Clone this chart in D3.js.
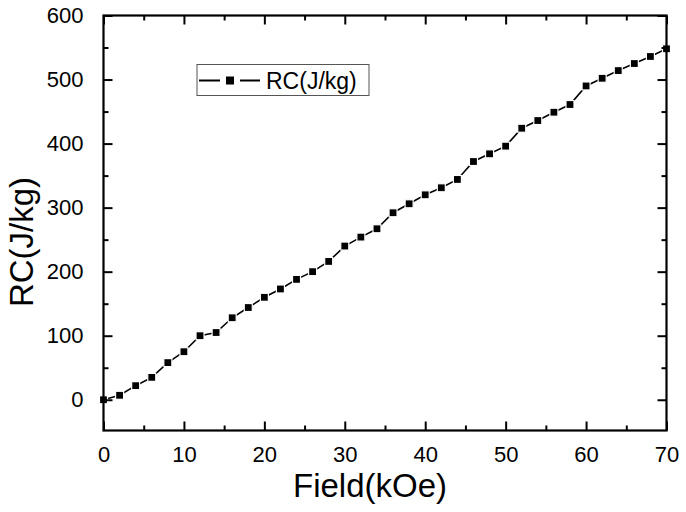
<!DOCTYPE html>
<html>
<head>
<meta charset="utf-8">
<script src="https://cdn.jsdelivr.net/npm/d3@7"></script>
<style>
  body { margin: 0; background: #fff; }
  svg { font-family: "Liberation Sans", Arial, sans-serif; }
</style>
</head>
<body>
<svg id="chart" width="686" height="512"></svg>
<script>
// field values (kOe)
const fields = [0, 2, 4, 6, 8, 10, 12, 14, 16, 18, 20, 22, 24, 26, 28, 30, 32, 34,
  36, 38, 40, 42, 44, 46, 48, 50, 52, 54, 56, 58, 60, 62, 64, 66, 68, 70];
// RC (J/kg)
const rcValues = [0, 7, 22, 35, 58, 75, 100, 105, 128, 144, 160, 173, 188, 200, 216, 240, 254, 267,
  292, 306, 320, 331, 344, 372, 384, 396, 424, 436, 449, 461, 490, 502, 514, 525, 536, 548];
const xTicks = [0, 10, 20, 30, 40, 50, 60, 70];
const yTicks = [0, 100, 200, 300, 400, 500, 600];
const seriesName = "RC(J/kg)";

const data = fields.map((f, i) => ({ x: f, y: rcValues[i] }));

const plotLeft = 103.5, plotRight = 666.5, plotTop = 15.5, plotBottom = 430.5;

const svg = d3.select("#chart");

const x = d3.scaleLinear().domain([0, 70]).range([plotLeft, plotRight]);
const y = d3.scaleLinear().domain([-48, 600]).range([plotBottom, plotTop]);

const plot = svg.append("g");

// data line
const line = d3.line().x(d => x(d.x)).y(d => y(d.y));
plot.append("path")
  .datum(data)
  .attr("fill", "none")
  .attr("stroke", "#000")
  .attr("stroke-width", 1.6)
  .attr("d", line);

// square markers with a white rim (gap look)
plot.selectAll(".pt")
  .data(data)
  .enter().append("rect")
  .attr("class", "pt")
  .attr("x", d => x(d.x) - 4)
  .attr("y", d => y(d.y) - 4)
  .attr("width", 8)
  .attr("height", 8)
  .attr("fill", "#000")
  .attr("stroke", "#fff")
  .attr("stroke-width", 1.2);

// axes
const minorX = d3.range(5, 70, 10);
const minorY = d3.range(50, 600, 100);

function styleAxis(g) {
  g.select(".domain").remove();
  g.selectAll(".tick line").attr("stroke", "#000").attr("stroke-width", 2);
  g.selectAll(".tick text").attr("fill", "#000").style("font-size", "22px");
}

// bottom
svg.append("g").attr("transform", `translate(0,${plotBottom})`)
  .call(d3.axisBottom(x).tickValues(xTicks).tickFormat(d3.format("d")).tickSizeInner(-9).tickSizeOuter(0).tickPadding(16))
  .call(styleAxis);
svg.append("g").attr("transform", `translate(0,${plotBottom})`)
  .call(d3.axisBottom(x).tickValues(minorX).tickFormat("").tickSizeInner(-5).tickSizeOuter(0))
  .call(styleAxis);

// top
svg.append("g").attr("transform", `translate(0,${plotTop})`)
  .call(d3.axisTop(x).tickValues(xTicks).tickFormat("").tickSizeInner(-9).tickSizeOuter(0))
  .call(styleAxis);
svg.append("g").attr("transform", `translate(0,${plotTop})`)
  .call(d3.axisTop(x).tickValues(minorX).tickFormat("").tickSizeInner(-5).tickSizeOuter(0))
  .call(styleAxis);

// left
svg.append("g").attr("transform", `translate(${plotLeft},0)`)
  .call(d3.axisLeft(y).tickValues(yTicks).tickFormat(d3.format("d")).tickSizeInner(-9).tickSizeOuter(0).tickPadding(20))
  .call(styleAxis);
svg.append("g").attr("transform", `translate(${plotLeft},0)`)
  .call(d3.axisLeft(y).tickValues(minorY).tickFormat("").tickSizeInner(-5).tickSizeOuter(0))
  .call(styleAxis);

// right
svg.append("g").attr("transform", `translate(${plotRight},0)`)
  .call(d3.axisRight(y).tickValues(yTicks).tickFormat("").tickSizeInner(-9).tickSizeOuter(0))
  .call(styleAxis);
svg.append("g").attr("transform", `translate(${plotRight},0)`)
  .call(d3.axisRight(y).tickValues(minorY).tickFormat("").tickSizeInner(-5).tickSizeOuter(0))
  .call(styleAxis);

// frame
svg.append("rect")
  .attr("x", plotLeft).attr("y", plotTop)
  .attr("width", plotRight - plotLeft).attr("height", plotBottom - plotTop)
  .attr("fill", "none").attr("stroke", "#000").attr("stroke-width", 2.2);

// axis titles
svg.append("text")
  .attr("x", 370).attr("y", 497)
  .attr("text-anchor", "middle")
  .style("font-size", "33px")
  .text("Field(kOe)");

svg.append("text")
  .attr("transform", "translate(33,242) rotate(-90)")
  .attr("text-anchor", "middle")
  .style("font-size", "33px")
  .text("RC(J/kg)");

// legend
const lg = svg.append("g");
lg.append("rect")
  .attr("x", 197).attr("y", 64.5).attr("width", 172).attr("height", 31)
  .attr("fill", "#fff").attr("stroke", "#555").attr("stroke-width", 1);
lg.append("line").attr("x1", 199).attr("x2", 220).attr("y1", 80.5).attr("y2", 80.5)
  .attr("stroke", "#000").attr("stroke-width", 2);
lg.append("line").attr("x1", 240).attr("x2", 260).attr("y1", 80.5).attr("y2", 80.5)
  .attr("stroke", "#000").attr("stroke-width", 2);
lg.append("rect").attr("x", 226).attr("y", 76.5).attr("width", 8).attr("height", 8).attr("fill", "#000");
lg.append("text")
  .attr("x", 266).attr("y", 89)
  .style("font-size", "23px")
  .text(seriesName);
</script>
</body>
</html>
